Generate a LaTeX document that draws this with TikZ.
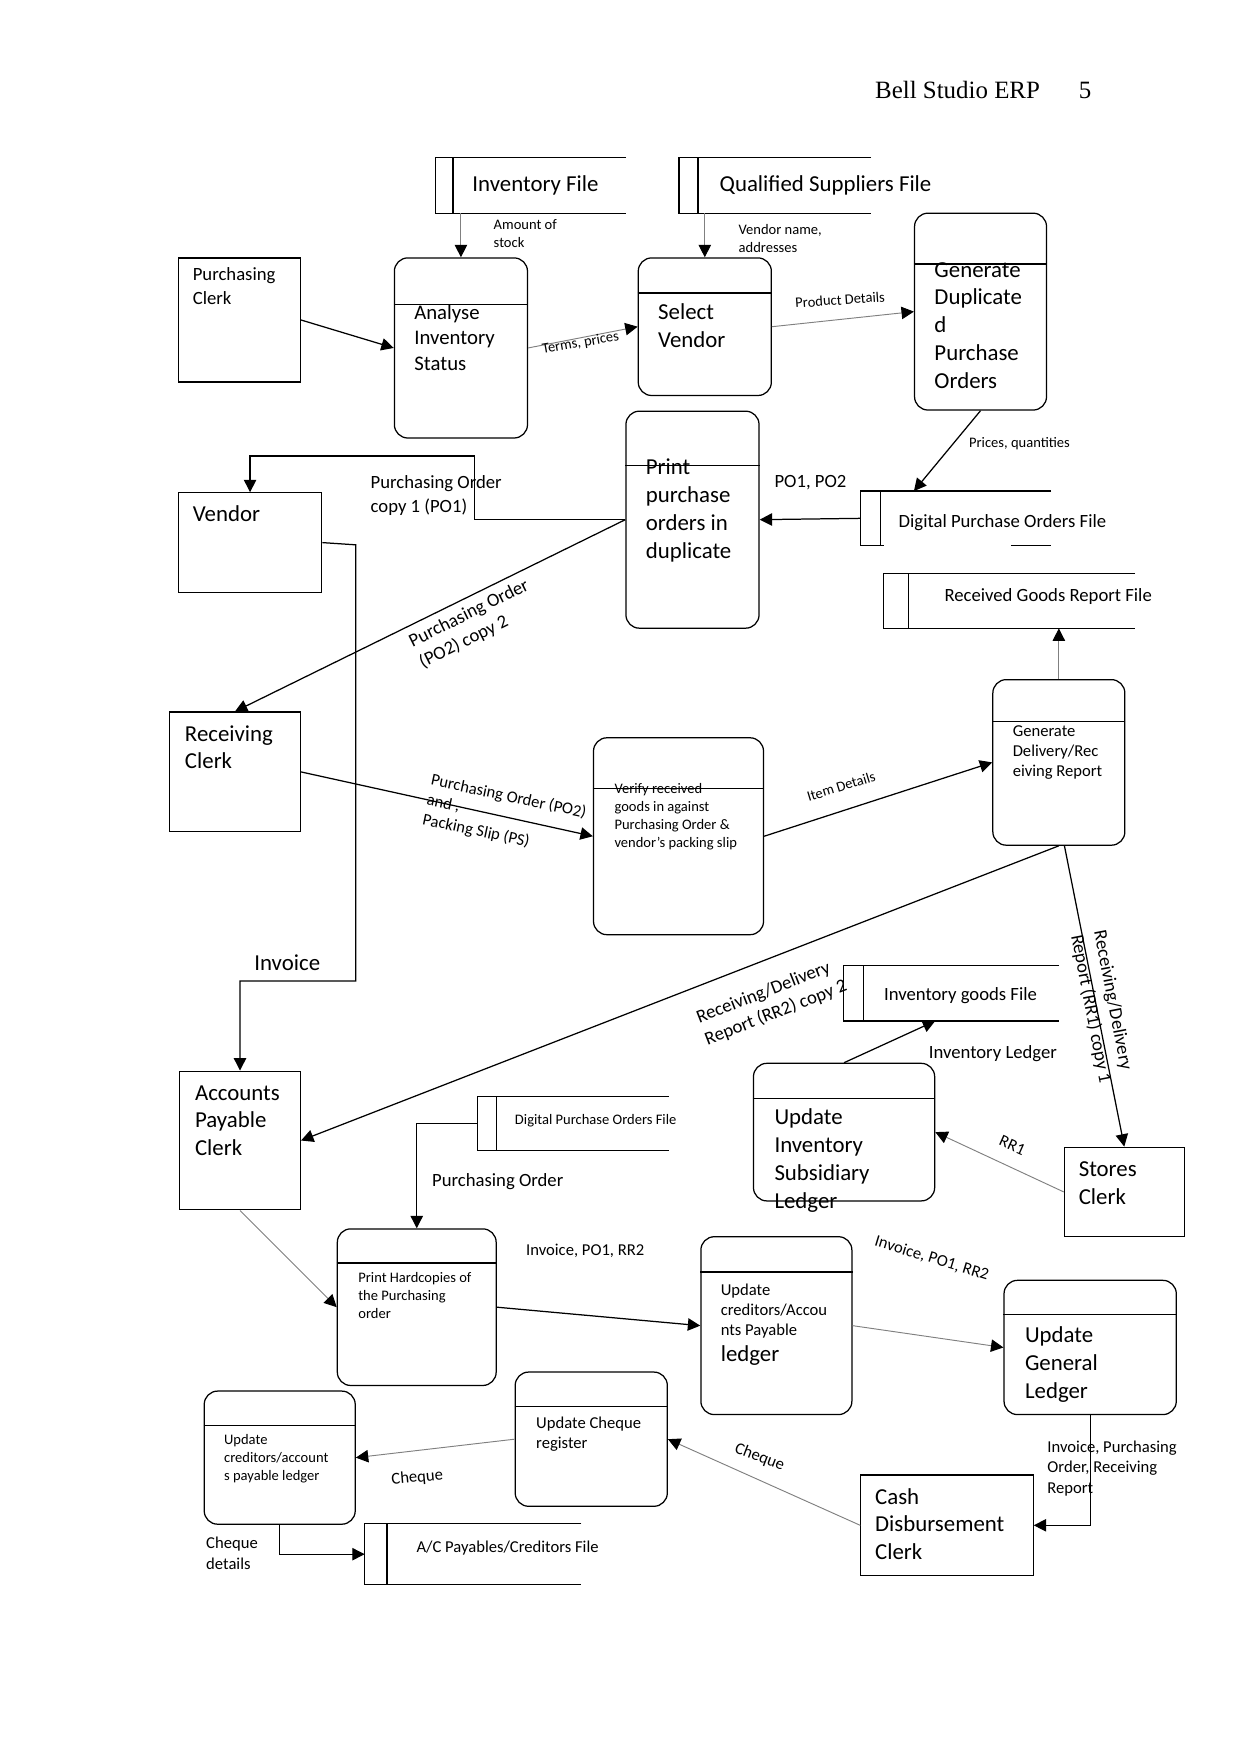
\documentclass[tikz,border=0pt]{standalone}
\usepackage{fontspec}
\setmainfont{Carlito}
\newfontfamily\hdrfont{Liberation Serif}
\usetikzlibrary{arrows.meta,calc,positioning}
\newdimen\dpx \dpx=0.01894cm
\newcommand\fsXL{\fontsize{11}{13.4}\selectfont}
\newcommand\fsL{\fontsize{9}{11.2}\selectfont}
\newcommand\fsM{\fontsize{8}{9.7}\selectfont}
\newcommand\fsS{\fontsize{7}{8.6}\selectfont}

\begin{document}
\begin{tikzpicture}[x=0.01894cm,y=-0.01894cm,
  every node/.style={inner sep=0pt},
  entity/.style={draw,rectangle,anchor=north west,line width=0.6pt},
  proc/.style={draw,rectangle,rounded corners=12\dpx,anchor=north west,line width=0.6pt},
  store/.style={rectangle,anchor=north west},
  txt/.style={anchor=north west,align=left},
  flow/.style={-{Triangle[length=2.1mm,width=2.1mm,color=black]},line width=0.6pt},
  faint/.style={flow,black!50,line width=0.45pt}]
  \path[fill=white,use as bounding box] (0,0) rectangle (1109,1568);
  \node[anchor=base west,font=\hdrfont\fontsize{12}{14}\selectfont] (hdr) at (782,88) {Bell Studio ERP};
  \node[anchor=base west,font=\hdrfont\fontsize{12}{14}\selectfont] (pgno) at (964,88) {5};

  % External entities and processes.
  \node[entity,minimum width=109\dpx,minimum height=111\dpx] (purClerk) at (159,230) {};
  \node[proc,minimum width=119\dpx,minimum height=161\dpx] (analyse) at (352,230) {};
  \node[proc,minimum width=119\dpx,minimum height=123\dpx] (selVendor) at (570,230) {};
  \node[proc,minimum width=118\dpx,minimum height=176\dpx] (genPO) at (817,190) {};
  \node[proc,minimum width=119\dpx,minimum height=194\dpx] (printPO) at (559,367) {};
  \node[entity,minimum width=128\dpx,minimum height=89\dpx] (vendor) at (159,440) {};
  \node[entity,minimum width=117\dpx,minimum height=107\dpx] (recClerk) at (151,636) {};
  \node[proc,minimum width=152\dpx,minimum height=176\dpx] (verify) at (530,659) {};
  \node[proc,minimum width=118\dpx,minimum height=148\dpx] (genRR) at (887,607) {};
  \node[proc,minimum width=162\dpx,minimum height=123\dpx] (updInv) at (673,950) {};
  \node[entity,minimum width=107\dpx,minimum height=80\dpx] (stores) at (951,1025) {};
  \node[entity,minimum width=108\dpx,minimum height=124\dpx] (apClerk) at (160,957) {};
  \node[proc,minimum width=142\dpx,minimum height=140\dpx] (printHC) at (301,1098) {};
  \node[proc,minimum width=135\dpx,minimum height=159\dpx] (updAP) at (626,1105) {};
  \node[proc,minimum width=154\dpx,minimum height=120\dpx] (updGL) at (897,1144) {};
  \node[entity,minimum width=154\dpx,minimum height=90\dpx] (cash) at (769,1318) {};
  \node[proc,minimum width=136\dpx,minimum height=120\dpx] (updChq) at (460,1226) {};
  \node[proc,minimum width=135\dpx,minimum height=119\dpx] (updCred) at (182,1243) {};
  \foreach \n/\d in {analyse/42,selVendor/32,genPO/46,printPO/49,verify/46,genRR/38,
      updInv/32,printHC/31,updAP/32,updGL/31,updChq/31,updCred/31}
    \draw[line width=0.6pt] ($(\n.north west)+(0,\d)$) -- ($(\n.north east)+(0,\d)$);

  % Data stores, open on the right.
  \node[store,minimum width=170\dpx,minimum height=49\dpx] (invFile) at (389,141) {};
  \node[store,minimum width=171\dpx,minimum height=49\dpx] (supFile) at (607,141) {};
  \node[store,minimum width=170\dpx,minimum height=48\dpx] (dpoFile) at (769,439) {};
  \node[store,minimum width=224\dpx,minimum height=48\dpx] (rgFile) at (790,513) {};
  \node[store,minimum width=192\dpx,minimum height=49\dpx] (igFile) at (754,863) {};
  \node[store,minimum width=170\dpx,minimum height=48\dpx] (dpoFile2) at (427,980) {};
  \node[store,minimum width=193\dpx,minimum height=54\dpx] (acFile) at (326,1362) {};
  \foreach \n/\d in {invFile/16,supFile/17,rgFile/22,igFile/18,dpoFile2/17,acFile/20}
    \draw[line width=0.6pt] (\n.north east) -- (\n.north west) -- (\n.south west) -- (\n.south east)
      ($(\n.north west)+(\d,0)$) -- ($(\n.south west)+(\d,0)$);
  % lower edge of this one is broken
  \draw[line width=0.6pt] (dpoFile.north east) -- (dpoFile.north west) -- (dpoFile.south west) -- ++(21,0)
    ($(dpoFile.north west)+(18,0)$) -- ($(dpoFile.south west)+(18,0)$)
    ($(dpoFile.south east)+(-36,0)$) -- (dpoFile.south east);

  % Texts in the boxes.
  \node[txt,font=\fsL] (tPurClerk) at (172,239) {Purchasing\\Clerk};
  \node[txt,font=\fontsize{10}{12.4}\selectfont] (tAnalyse) at (370,272) {Analyse\\Inventory\\Status};
  \node[txt,font=\fsXL] (tSelVendor) at (588,271) {Select\\Vendor};
  \node[txt,font=\fsXL] (tGenPO) at (835,234) {Generate\\Duplicate\\d\\Purchase\\Orders};
  \node[txt,font=\fsXL] (tPrintPO) at (577,410) {Print\\purchase\\orders in\\duplicate};
  \node[txt,font=\fsXL] (tVendor) at (172,452) {Vendor};
  \node[txt,font=\fsXL] (tRecClerk) at (165,648) {Receiving\\Clerk};
  \node[txt,font=\fsS] (tVerify) at (549,700) {Verify received\\goods in against\\Purchasing Order \&\\vendor's packing slip};
  \node[txt,font=\fsM] (tGenRR) at (905,648) {Generate\\Delivery/Rec\\eiving Report};
  \node[txt,font=\fsXL] (tUpdInv) at (692,991) {Update\\Inventory\\Subsidiary\\Ledger};
  \node[txt,font=\fsXL] (tStores) at (964,1038) {Stores\\Clerk};
  \node[txt,font=\fsXL] (tApClerk) at (174,970) {Accounts\\Payable\\Clerk};
  \node[txt,font=\fsS] (tPrintHC) at (320,1137) {Print Hardcopies of\\the Purchasing\\order};
  \node[txt,font=\fsM] (tUpdAP) at (644,1147) {Update\\creditors/Accou\\nts Payable};
  \node[txt,font=\fsXL] (tUpdAPb) at (644,1203) {ledger};
  \node[txt,font=\fsXL] (tUpdGL) at (916,1186) {Update\\General\\Ledger};
  \node[txt,font=\fsXL] (tCash) at (782,1330) {Cash\\Disbursement\\Clerk};
  \node[txt,font=\fsM] (tUpdChq) at (479,1266) {Update Cheque\\register};
  \node[txt,font=\fsS] (tUpdCred) at (200,1282) {Update\\creditors/account\\s payable ledger};
  \node[anchor=west,font=\fsXL] (tInvFile) at (422,166) {Inventory File};
  \node[anchor=west,font=\fsXL] (tSupFile) at (643,166) {Qualified Suppliers File};
  \node[anchor=west,font=\fsL] (tDpoFile) at (803,467) {Digital Purchase Orders File};
  \node[anchor=west,font=\fsL] (tRgFile) at (844,533) {Received Goods Report File};
  \node[anchor=west,font=\fsL] (tIgFile) at (790,890) {Inventory goods File};
  \node[anchor=west,font=\fsS] (tDpoFile2) at (460,1002) {Digital Purchase Orders File};
  \node[anchor=west,font=\fsM] (tAcFile) at (372,1384) {A/C Payables/Creditors File};

  % Flows.
  \draw[faint] (invFile.south -| analyse.north) -- (analyse.north);
  \draw[faint] (supFile.south -| selVendor.north) -- (selVendor.north);
  \draw[flow] (purClerk.east) -- (analyse.west);
  \draw[faint] (analyse.east) -- (selVendor.west);
  \draw[faint] (selVendor.east) -- (genPO.west);
  \draw[flow] (genPO.south) -- ($(dpoFile.north west)+(48,0)$);
  \draw[flow] (dpoFile.west) -- (printPO.east);
  \draw[flow] (printPO.west) -- ++(-135,0) -- ++(0,-57) -| (vendor.north);
  \draw[flow] (printPO.west) -- (recClerk.north);
  \draw[flow] (vendor.east) -- ++(30,2) -- ++(0,390) -| (apClerk.north);
  \draw[flow] (recClerk.east) -- (verify.west);
  \draw[flow] (verify.east) -- (genRR.west);
  \draw[faint] (genRR.north) -- (genRR.north |- rgFile.south);
  \draw[flow] (genRR.south) -- (apClerk.east);
  \draw[flow] ($(genRR.south)+(5,0)$) -- (stores.north);
  \draw[flow] (updInv.north) -- ($(igFile.south west)+(82,0)$);
  \draw[faint] (stores.west) -- (updInv.east);
  \draw[flow] (dpoFile2.west) -| (printHC.north);
  \draw[faint] (apClerk.south) -- (printHC.west);
  \draw[flow] (printHC.east) -- (updAP.west);
  \draw[faint] (updAP.east) -- (updGL.west);
  \draw[flow] (updGL.south) |- (cash.east);
  \draw[faint] (cash.west) -- (updChq.east);
  \draw[faint] (updChq.west) -- (updCred.east);
  \draw[flow] (updCred.south) |- (acFile.west);

  % Flow labels.
  \node[txt,font=\fsS] (lStock) at (441,196) {Amount of\\stock};
  \node[txt,font=\fsS] (lVname) at (660,200) {Vendor name,\\addresses};
  \node[font=\fsS,rotate=10] (lTerms) at (519,307) {Terms, prices};
  \node[font=\fsS,rotate=4] (lProduct) at (751,268) {Product Details};
  \node[txt,font=\fsS] (lPrices) at (866,391) {Prices, quantities};
  \node[txt,font=\fsL] (lPO12) at (692,425) {PO1, PO2};
  \node[txt,font=\fsL] (lPO1) at (331,425) {Purchasing Order\\copy 1 (PO1)};
  \node[font=\fsL,rotate=26.4,align=left] (lPO2) at (424,558) {Purchasing Order\\(PO2) copy 2};
  \node[txt,font=\fsXL] (lInvoice) at (227,853) {Invoice};
  \node[font=\fsM,rotate=-12,align=left] (lPS) at (451,730) {Purchasing Order (PO2)\\and ,\\Packing Slip (PS)};
  \node[font=\fsS,rotate=17] (lItem) at (752,703) {Item Details};
  \node[font=\fsL,rotate=21.3,align=left] (lRR2) at (690,896) {Receiving/Delivery\\Report (RR2) copy 2};
  \node[font=\fsL,rotate=-79,align=left] (lRR1) at (985,900) {Receiving/Delivery\\Report (RR1) copy 1};
  \node[txt,font=\fsL] (lInvLedger) at (830,934) {Inventory Ledger};
  \node[font=\fsM,rotate=-24] (lRR1b) at (905,1024) {RR1};
  \node[txt,font=\fsL] (lPO) at (386,1049) {Purchasing Order};
  \node[txt,font=\fsM] (lIPR) at (470,1112) {Invoice, PO1, RR2};
  \node[font=\fsM,rotate=-17] (lIPR2) at (833,1125) {Invoice, PO1, RR2};
  \node[txt,font=\fsM] (lIPRR) at (936,1288) {Invoice, Purchasing\\Order, Receiving\\Report};
  \node[font=\fsM,rotate=-21] (lCheque) at (679,1303) {Cheque};
  \node[font=\fsM,rotate=5] (lCheque2) at (373,1321) {Cheque};
  \node[txt,font=\fsM] (lChqDet) at (184,1374) {Cheque\\details};
\end{tikzpicture}
\end{document}
